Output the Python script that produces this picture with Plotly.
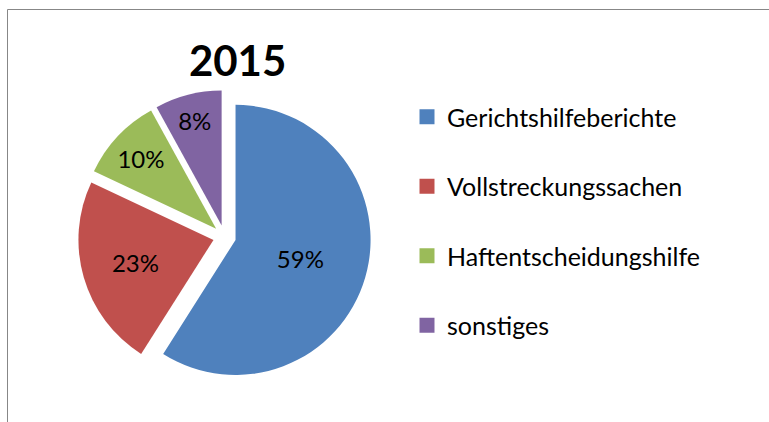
import plotly.graph_objects as go

categories = ["Gerichtshilfeberichte", "Vollstreckungssachen", "Haftentscheidungshilfe", "sonstiges"]
values = [59, 23, 10, 8]
colors = ["#4F81BD", "#C0504D", "#9BBB59", "#8064A2"]
title_text = "2015"

W, H = 769, 422
FONT = "Lato, 'Open Sans', sans-serif"

fig = go.Figure()
fig.add_trace(go.Pie(
    labels=categories,
    values=values,
    sort=False,
    direction="clockwise",
    rotation=0,
    pull=[0.085] * len(values),
    marker=dict(colors=colors, line=dict(width=0)),
    texttemplate="%{percent:.0%}",
    textposition="inside",
    insidetextorientation="horizontal",
    insidetextfont=dict(color="black", size=24, family=FONT),
    showlegend=False,
    hoverinfo="label+percent",
    domain=dict(x=[0.1014, 0.4825], y=[0.0919, 0.7863]),
))

# legend entries (one group per category to control vertical spacing)
for cat, col in zip(categories, colors):
    fig.add_trace(go.Scatter(
        x=[None], y=[None], mode="markers", name=cat,
        legendgroup=cat,
        marker=dict(symbol="square", size=15, color=col),
        showlegend=True,
    ))

fig.update_layout(
    width=W, height=H,
    margin=dict(l=0, r=0, t=0, b=0),
    paper_bgcolor="white",
    plot_bgcolor="white",
    xaxis=dict(visible=False),
    yaxis=dict(visible=False),
    font=dict(family=FONT, color="black"),
    title=dict(
        text="<b>%s</b>" % title_text,
        x=0.309, xanchor="center", xref="paper",
        y=1 - 61 / H, yanchor="middle",
        font=dict(size=42, family=FONT, color="black"),
    ),
    legend=dict(
        x=407 / W, xanchor="left",
        y=1 - 94 / H, yanchor="top",
        font=dict(size=25, family=FONT, color="black"),
        tracegroupgap=34,
        bgcolor="rgba(0,0,0,0)",
        traceorder="grouped",
    ),
    shapes=[dict(
        type="rect", xref="paper", yref="paper",
        x0=7.5 / W, x1=1.05, y0=-0.05, y1=1 - 9.5 / H,
        line=dict(color="#878787", width=1),
        fillcolor="rgba(0,0,0,0)",
        layer="below",
    )],
)

fig.write_html(
    "out.html",
    config={"displayModeBar": False},
    post_script="document.body.style.margin='0';document.body.style.overflow='hidden';",
)
